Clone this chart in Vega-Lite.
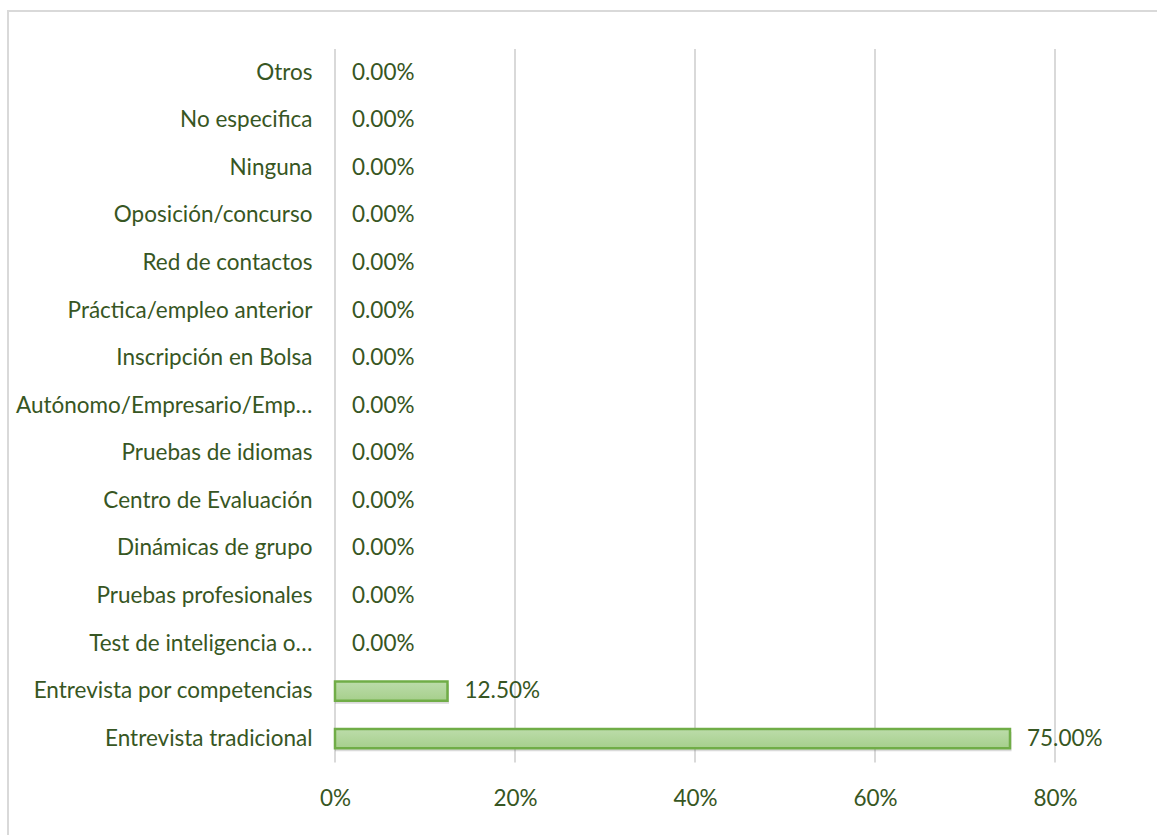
{
  "$schema": "https://vega.github.io/schema/vega-lite/v6.json",
  "width": 1152,
  "height": 826,
  "autosize": {"type": "none"},
  "padding": {"left": 8, "top": 11, "right": 0, "bottom": 0},
  "background": "white",
  "config": {
    "view": {"stroke": "#d9d9d9", "strokeWidth": 2},
    "font": "Lato"
  },
  "layer": [
    {
      "data": {"values": [{"v": 0}, {"v": 0.2}, {"v": 0.4}, {"v": 0.6}, {"v": 0.8}]},
      "mark": {"type": "rule", "color": "#d9d9d9", "strokeWidth": 2},
      "encoding": {
        "x": {
          "field": "v", "type": "quantitative",
          "scale": {"domain": [-0.36333, 0.91667], "nice": false, "zero": false},
          "axis": {"orient": "bottom", "offset": -74.5, "values": [0, 0.2, 0.4, 0.6, 0.8], "format": ".0%", "domain": false, "ticks": false, "tickSize": 0, "grid": false, "labelPadding": 35.5, "labelBaseline": "middle", "labelFontSize": 22.5, "labelFont": "Lato", "labelColor": "#375623", "title": null, "labelFlush": false, "labelOverlap": false}
        },
        "y": {"datum": 0, "type": "quantitative", "scale": {"domain": [-0.10441, 1.05326], "nice": false, "zero": false}, "axis": null},
        "y2": {"datum": 1}
      }
    },
    {
      "data": {
        "values": [
          {"metodo": "Otros", "v": 0},
          {"metodo": "No especifica", "v": 0},
          {"metodo": "Ninguna", "v": 0},
          {"metodo": "Oposición/concurso", "v": 0},
          {"metodo": "Red de contactos", "v": 0},
          {"metodo": "Práctica/empleo anterior", "v": 0},
          {"metodo": "Inscripción en Bolsa", "v": 0},
          {"metodo": "Autónomo/Empresario/Emp…", "v": 0},
          {"metodo": "Pruebas de idiomas", "v": 0},
          {"metodo": "Centro de Evaluación", "v": 0},
          {"metodo": "Dinámicas de grupo", "v": 0},
          {"metodo": "Pruebas profesionales", "v": 0},
          {"metodo": "Test de inteligencia o…", "v": 0},
          {"metodo": "Entrevista por competencias", "v": 0.125},
          {"metodo": "Entrevista tradicional", "v": 0.75}
        ]
      },
      "encoding": {
        "y": {
          "field": "metodo", "type": "nominal", "sort": null,
          "scale": {"type": "band", "range": [38, 751.5], "paddingInner": 0.595, "paddingOuter": 0.2975, "align": 0.5, "round": false},
          "axis": {"orient": "left", "offset": -327, "domain": false, "ticks": false, "tickSize": 0, "grid": false, "labelPadding": 23, "labelFontSize": 22.5, "labelFont": "Lato", "labelColor": "#375623", "labelLimit": 500, "title": null}
        }
      },
      "layer": [
        {
          "mark": {"type": "bar", "fill": "#555555", "yOffset": 3, "xOffset": 1.5},
          "encoding": {
            "x": {
              "field": "v", "type": "quantitative",
              "scale": {"domain": [-0.36333, 0.91667], "nice": false, "zero": false},
              "axis": {"orient": "bottom", "offset": -74.5, "values": [0, 0.2, 0.4, 0.6, 0.8], "format": ".0%", "domain": false, "ticks": false, "tickSize": 0, "grid": false, "labelPadding": 35.5, "labelBaseline": "middle", "labelFontSize": 22.5, "labelFont": "Lato", "labelColor": "#375623", "title": null, "labelFlush": false, "labelOverlap": false}
            },
            "x2": {"datum": 0},
            "opacity": {"condition": {"test": "datum.v > 0", "value": 0.22}, "value": 0}
          }
        },
        {
          "mark": {
            "type": "bar",
            "fill": {"gradient": "linear", "x1": 0, "y1": 0, "x2": 0, "y2": 1, "stops": [{"offset": 0, "color": "#bcdcaa"}, {"offset": 1, "color": "#a6cf8c"}]},
            "stroke": "#70ad47",
            "strokeWidth": 2.5
          },
          "encoding": {
            "x": {
              "field": "v", "type": "quantitative",
              "scale": {"domain": [-0.36333, 0.91667], "nice": false, "zero": false},
              "axis": {"orient": "bottom", "offset": -74.5, "values": [0, 0.2, 0.4, 0.6, 0.8], "format": ".0%", "domain": false, "ticks": false, "tickSize": 0, "grid": false, "labelPadding": 35.5, "labelBaseline": "middle", "labelFontSize": 22.5, "labelFont": "Lato", "labelColor": "#375623", "title": null, "labelFlush": false, "labelOverlap": false}
            },
            "x2": {"datum": 0},
            "strokeOpacity": {"condition": {"test": "datum.v > 0", "value": 1}, "value": 0}
          }
        },
        {
          "mark": {"type": "text", "align": "left", "baseline": "middle", "dx": 17, "fontSize": 22.5, "font": "Lato", "color": "#375623"},
          "encoding": {
            "x": {
              "field": "v", "type": "quantitative",
              "scale": {"domain": [-0.36333, 0.91667], "nice": false, "zero": false},
              "axis": {"orient": "bottom", "offset": -74.5, "values": [0, 0.2, 0.4, 0.6, 0.8], "format": ".0%", "domain": false, "ticks": false, "tickSize": 0, "grid": false, "labelPadding": 35.5, "labelBaseline": "middle", "labelFontSize": 22.5, "labelFont": "Lato", "labelColor": "#375623", "title": null, "labelFlush": false, "labelOverlap": false}
            },
            "text": {"field": "v", "type": "quantitative", "format": ".2%"}
          }
        }
      ]
    }
  ],
  "resolve": {"scale": {"y": "independent"}}
}
